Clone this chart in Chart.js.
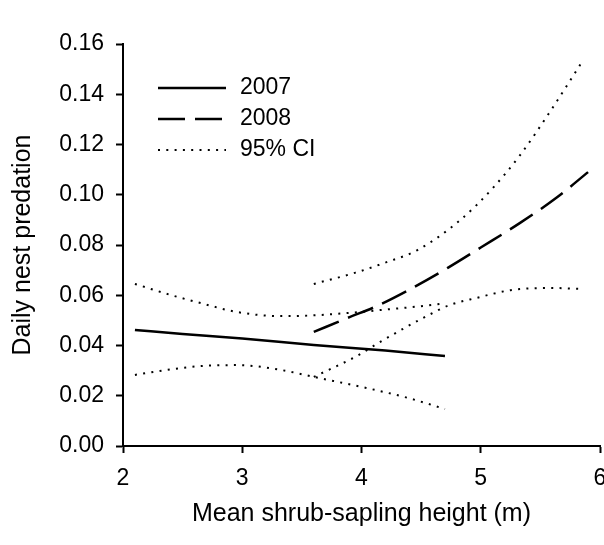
<!DOCTYPE html>
<html>
<head>
<meta charset="utf-8">
<script src="https://cdn.jsdelivr.net/npm/chart.js@4.4.1/dist/chart.umd.min.js"></script>
<style>
  body { margin: 0; background: #fff; }
  #c { display: block; }
</style>
</head>
<body>
<canvas id="c" width="604" height="545"></canvas>
<script>
// values
const x2007 = [2.1, 2.5, 3.0, 3.6, 4.2, 4.7];
const pred2007 = [0.0462, 0.0446, 0.0428, 0.0402, 0.0380, 0.0358];
const upX2007 = [2.1, 2.4, 2.65, 2.96, 3.32, 3.6, 3.9, 4.2, 4.47, 4.7];
const up2007 = [0.0645, 0.0601, 0.0569, 0.0533, 0.0517, 0.0520, 0.0530, 0.0543, 0.0555, 0.0568];
const loX2007 = [2.1, 2.4, 2.65, 2.96, 3.32, 3.6, 4.04, 4.4, 4.7];
const lo2007 = [0.0283, 0.0305, 0.0318, 0.0322, 0.0303, 0.0275, 0.0231, 0.0190, 0.0147];

const x2008 = [3.6, 3.9, 4.11, 4.4, 4.72, 5.0, 5.33, 5.64, 5.9];
const pred2008 = [0.0454, 0.0513, 0.0553, 0.0622, 0.0708, 0.0790, 0.0888, 0.0990, 0.1090];
const upX2008 = [3.6, 3.95, 4.2, 4.47, 4.83, 5.1, 5.33, 5.58, 5.86];
const up2008 = [0.0645, 0.0690, 0.0730, 0.0780, 0.0900, 0.1026, 0.1158, 0.1330, 0.1537];
const loX2008 = [3.6, 3.96, 4.17, 4.53, 4.74, 4.97, 5.25, 5.58, 5.85];
const lo2008 = [0.0275, 0.0358, 0.0418, 0.0513, 0.0561, 0.0590, 0.0620, 0.0629, 0.0625];

const legendLabels = ['2007', '2008', '95% CI'];
const xTicks = [2, 3, 4, 5, 6];

const solid = [];
const dashed = [27, 10];
const dotted = [2, 6.3];

function pts(xs, ys) {
  return xs.map((x, i) => ({ x: x, y: ys[i] }));
}

function line(label, xs, ys, dash, width) {
  return {
    label: label,
    data: pts(xs, ys),
    borderColor: '#000',
    borderWidth: width,
    borderDash: dash,
    pointRadius: 0,
    fill: false,
    cubicInterpolationMode: 'monotone'
  };
}

const FONT = "'Liberation Sans', Arial, sans-serif";

// legend drawn inside the plot, top-left
const insideLegend = {
  id: 'insideLegend',
  afterDraw(chart) {
    const ctx = chart.ctx;
    const styles = [[solid, 2.5], [dashed, 2.5], [dotted, 2]];
    const rows = [88, 119, 150];
    ctx.save();
    ctx.font = '23px ' + FONT;
    ctx.fillStyle = '#000';
    ctx.textBaseline = 'middle';
    legendLabels.forEach((lab, i) => {
      ctx.beginPath();
      ctx.setLineDash(styles[i][0]);
      ctx.lineWidth = styles[i][1];
      ctx.strokeStyle = '#000';
      ctx.moveTo(158, rows[i]);
      ctx.lineTo(226, rows[i]);
      ctx.stroke();
      ctx.fillText(lab, 240, rows[i]);
    });
    ctx.restore();
  }
};

new Chart(document.getElementById('c'), {
  type: 'line',
  data: {
    datasets: [
      line('2007', x2007, pred2007, solid, 2.5),
      line('2007 upper', upX2007, up2007, dotted, 2),
      line('2007 lower', loX2007, lo2007, dotted, 2),
      line('2008', x2008, pred2008, dashed, 2.5),
      line('2008 upper', upX2008, up2008, dotted, 2),
      line('2008 lower', loX2008, lo2008, dotted, 2)
    ]
  },
  options: {
    responsive: false,
    animation: false,
    layout: { padding: { left: 4, right: 4, top: 44, bottom: 12 } },
    plugins: { legend: { display: false }, tooltip: { enabled: false } },
    scales: {
      x: {
        type: 'linear',
        min: 2,
        max: 6,
        afterBuildTicks: (s) => { s.ticks = xTicks.map(v => ({ value: v })); },
        afterFit: (s) => { s.paddingLeft = 0; s.paddingRight = 0; s.height = 87; },
        ticks: { color: '#000', font: { family: FONT, size: 23 }, padding: 12 },
        grid: { drawOnChartArea: false, tickLength: 7, tickColor: '#000', tickWidth: 2 },
        border: { color: '#000', width: 2 },
        title: { display: true, text: 'Mean shrub-sapling height (m)', color: '#000', font: { family: FONT, size: 25 } }
      },
      y: {
        min: 0,
        max: 0.16,
        afterFit: (s) => { s.width = 119; },
        ticks: {
          stepSize: 0.02,
          color: '#000',
          font: { family: FONT, size: 23 },
          padding: 12,
          callback: (v) => v.toFixed(2)
        },
        grid: { drawOnChartArea: false, tickLength: 7, tickColor: '#000', tickWidth: 2 },
        border: { color: '#000', width: 2 },
        title: { display: true, text: 'Daily nest predation', color: '#000', font: { family: FONT, size: 25 } }
      }
    }
  },
  plugins: [insideLegend]
});
</script>
</body>
</html>
